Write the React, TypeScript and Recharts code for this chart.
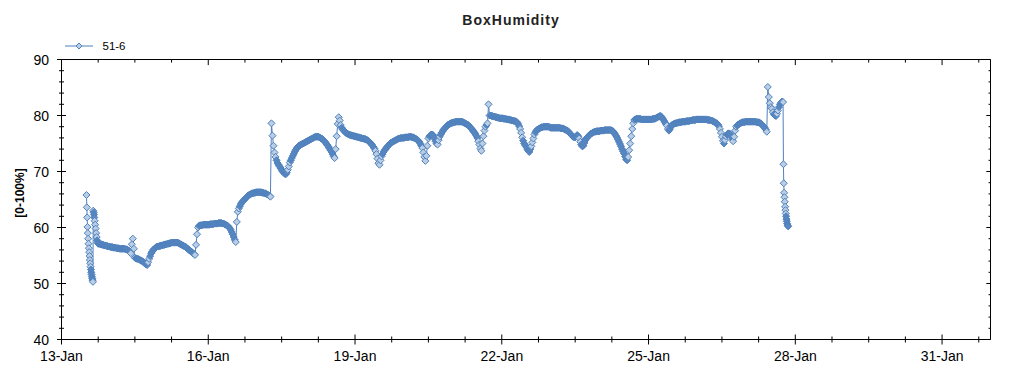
import { LineChart, Line, XAxis, YAxis, ReferenceLine } from 'recharts';

// Half-hourly humidity readings (%), one list per calendar day.
const jan13 = [57.1, 57.0, 57.0, 56.9, 56.9, 56.8, 56.8, 56.7, 56.7, 56.6, 56.6];
const jan14 = [
  56.5, 56.5, 56.5, 56.4, 56.4, 56.4, 56.3, 56.3, 56.3, 56.2, 56.2, 56.2, 56.2, 56.2, 56.2, 56.1,
  56.1, 56.0, 55.9, 55.7, 55.4, 57.0, 58.0, 56.2, 54.6, 54.5, 54.4, 54.4, 54.3, 54.2, 54.1, 54.0,
  53.9, 53.7, 53.6, 53.4, 53.3, 53.8, 54.4, 54.9, 55.4, 55.7, 56.0, 56.2, 56.3, 56.5, 56.6, 56.6,
];
const jan15 = [
  56.7, 56.7, 56.8, 56.8, 56.9, 56.9, 57.0, 57.0, 57.1, 57.1, 57.2, 57.2, 57.3, 57.3, 57.3, 57.3,
  57.3, 57.3, 57.3, 57.2, 57.1, 57.0, 56.9, 56.8, 56.7, 56.6, 56.5, 56.3, 56.2, 56.0, 55.9, 55.7,
  55.6, 55.4, 55.3, 55.1, 56.9, 58.8, 60.0, 60.3, 60.4, 60.4, 60.4, 60.5, 60.5, 60.5, 60.5, 60.5,
];
const jan16 = [
  60.5, 60.5, 60.6, 60.6, 60.6, 60.6, 60.7, 60.7, 60.7, 60.7, 60.8, 60.8, 60.8, 60.8, 60.7, 60.7,
  60.6, 60.5, 60.4, 60.3, 60.1, 59.9, 59.6, 59.2, 58.8, 58.3, 57.8, 57.4, 61.0, 62.8, 63.4, 63.8,
  64.2, 64.5, 64.7, 64.9, 65.1, 65.3, 65.5, 65.7, 65.8, 65.9, 66.0, 66.1, 66.1, 66.2, 66.2, 66.3,
];
const jan17 = [
  66.3, 66.3, 66.3, 66.3, 66.3, 66.2, 66.2, 66.1, 66.1, 66.0, 65.9, 65.8, 65.7, 65.5, 78.6, 76.4,
  74.6, 73.4, 72.6, 72.0, 71.5, 71.2, 70.9, 70.6, 70.3, 70.0, 69.8, 69.6, 69.5, 69.8, 70.3, 70.9,
  71.6, 72.0, 72.4, 72.8, 73.2, 73.6, 73.9, 74.2, 74.4, 74.6, 74.7, 74.8, 74.9, 75.0, 75.1, 75.2,
];
const jan18 = [
  75.3, 75.4, 75.5, 75.6, 75.7, 75.8, 75.9, 76.0, 76.1, 76.2, 76.2, 76.2, 76.2, 76.1, 76.0, 75.9,
  75.8, 75.6, 75.4, 75.2, 74.9, 74.7, 74.4, 74.1, 73.8, 73.5, 73.1, 72.7, 72.4, 74.0, 76.3, 78.5,
  79.7, 79.1, 78.3, 77.8, 77.5, 77.3, 77.1, 76.9, 76.8, 76.7, 76.6, 76.5, 76.5, 76.4, 76.4, 76.3,
];
const jan19 = [
  76.3, 76.2, 76.2, 76.1, 76.1, 76.0, 76.0, 75.9, 75.9, 75.8, 75.8, 75.7, 75.6, 75.5, 75.3, 75.1,
  74.9, 74.7, 74.4, 74.1, 73.7, 73.1, 72.3, 71.5, 71.2, 72.0, 72.7, 73.1, 73.5, 73.8, 74.0, 74.3,
  74.5, 74.7, 74.9, 75.1, 75.2, 75.3, 75.4, 75.5, 75.6, 75.7, 75.8, 75.9, 75.9, 76.0, 76.0, 76.0,
];
const jan20 = [
  76.0, 76.1, 76.1, 76.1, 76.1, 76.2, 76.2, 76.2, 76.1, 76.1, 76.0, 75.9, 75.8, 75.7, 75.5, 75.3,
  75.0, 74.6, 74.2, 73.4, 72.6, 71.9, 72.8, 74.6, 75.9, 76.3, 76.5, 76.6, 76.6, 76.3, 75.9, 75.4,
  75.0, 74.8, 75.6, 76.2, 76.6, 76.9, 77.2, 77.5, 77.7, 77.9, 78.1, 78.3, 78.4, 78.5, 78.6, 78.7,
];
const jan21 = [
  78.7, 78.8, 78.8, 78.9, 78.9, 78.9, 78.9, 78.9, 78.9, 78.9, 78.8, 78.7, 78.6, 78.5, 78.4, 78.3,
  78.1, 77.9, 77.7, 77.5, 77.2, 77.0, 76.7, 76.4, 76.0, 75.4, 74.8, 74.1, 73.7, 75.0, 76.3, 77.3,
  78.0, 78.3, 78.6, 82.0, 80.0, 80.0, 79.9, 79.9, 79.8, 79.8, 79.7, 79.7, 79.6, 79.6, 79.5, 79.5,
];
const jan22 = [
  79.5, 79.5, 79.4, 79.4, 79.4, 79.3, 79.3, 79.3, 79.2, 79.2, 79.1, 79.1, 79.0, 79.0, 78.9, 78.8,
  78.5, 78.1, 77.6, 76.9, 76.1, 75.5, 75.0, 74.7, 74.4, 74.0, 73.7, 73.5, 74.0, 74.5, 75.2, 75.9,
  76.6, 77.0, 77.3, 77.5, 77.6, 77.7, 77.8, 77.9, 77.9, 78.0, 78.0, 78.0, 78.0, 78.0, 78.0, 77.9,
];
const jan23 = [
  77.8, 77.8, 77.8, 77.8, 77.8, 77.8, 77.8, 77.8, 77.8, 77.8, 77.7, 77.7, 77.7, 77.6, 77.5, 77.4,
  77.3, 77.2, 77.0, 76.8, 76.6, 76.4, 76.2, 76.1, 76.1, 76.3, 76.5, 76.3, 75.9, 75.3, 74.8, 74.5,
  74.6, 75.1, 75.6, 75.9, 76.1, 76.3, 76.5, 76.7, 76.8, 76.9, 77.0, 77.1, 77.1, 77.2, 77.2, 77.2,
];
const jan24 = [
  77.2, 77.3, 77.3, 77.3, 77.3, 77.4, 77.4, 77.4, 77.4, 77.4, 77.4, 77.4, 77.3, 77.2, 77.0, 76.7,
  76.4, 76.1, 75.7, 75.3, 74.9, 74.5, 74.0, 73.6, 73.2, 72.7, 72.2, 72.0, 72.6, 73.8, 75.0, 76.3,
  77.6, 78.6, 79.2, 79.3, 79.4, 79.4, 79.4, 79.4, 79.4, 79.3, 79.3, 79.3, 79.3, 79.3, 79.3, 79.3,
];
const jan25 = [
  79.3, 79.3, 79.3, 79.3, 79.4, 79.4, 79.4, 79.5, 79.6, 79.7, 79.8, 79.9, 79.9, 79.7, 79.4, 79.1,
  78.8, 78.5, 78.2, 77.6, 77.3, 77.6, 78.1, 78.3, 78.4, 78.5, 78.6, 78.6, 78.7, 78.7, 78.8, 78.8,
  78.8, 78.9, 78.9, 78.9, 78.9, 79.0, 79.0, 79.0, 79.0, 79.1, 79.1, 79.2, 79.2, 79.2, 79.2, 79.3,
];
const jan26 = [
  79.3, 79.3, 79.3, 79.3, 79.3, 79.3, 79.3, 79.3, 79.3, 79.3, 79.2, 79.2, 79.2, 79.1, 79.1, 79.0,
  78.9, 78.8, 78.7, 78.6, 78.4, 78.1, 77.6, 76.9, 76.2, 75.5, 75.0, 75.6, 76.3, 76.6, 76.8, 76.8,
  76.7, 76.3, 75.8, 75.4, 76.2, 77.3, 78.0, 78.2, 78.4, 78.5, 78.6, 78.7, 78.8, 78.8, 78.8, 78.9,
];
const jan27 = [
  78.9, 78.9, 78.9, 78.9, 78.9, 78.9, 78.9, 78.9, 78.9, 78.9, 78.8, 78.8, 78.8, 78.7, 78.6, 78.4,
  78.2, 78.0, 77.8, 77.5, 77.1, 85.1, 83.3, 82.2, 81.5, 81.2, 80.6, 80.2, 80.0, 79.9, 80.3, 80.9,
  81.5, 82.0, 82.3, 82.5, 82.4,
];

// Faster readings around the two sharp drops: [hour of day, humidity %]
const jan13Drop: [number, number][] = [
  [12.25, 65.8], [12.42, 63.6], [12.58, 61.8], [12.75, 60.1], [12.92, 59.0], [13.08, 58.0], [13.25, 57.1],
  [13.42, 56.3], [13.58, 55.6], [13.75, 54.9], [13.92, 54.2], [14.08, 53.6], [14.25, 53.0], [14.42, 52.5],
  [14.58, 52.0], [14.75, 51.6], [14.92, 51.2], [15.08, 50.9], [15.25, 50.6], [15.42, 50.3],
  [15.58, 63.0], [15.75, 62.7], [15.92, 62.3], [16.08, 61.8], [16.25, 61.2], [16.5, 60.5], [16.75, 59.8],
  [17, 59.0], [17.25, 58.3], [17.5, 57.7], [17.75, 57.3], [18, 57.1],
];
const jan27Drop: [number, number][] = [
  [18.17, 71.3], [18.33, 67.9], [18.5, 66.2], [18.67, 65.4], [18.83, 64.6], [19, 63.7], [19.17, 63.1],
  [19.33, 62.5], [19.5, 62.0], [19.67, 61.5], [19.83, 61.1], [20, 60.7], [20.25, 60.4], [20.5, 60.2],
];

// [day of January, hour of first reading, half-hourly readings]
const grid: [number, number, number[]][] = [
  [13, 18.5, jan13], [14, 0, jan14], [15, 0, jan15], [16, 0, jan16], [17, 0, jan17], [18, 0, jan18],
  [19, 0, jan19], [20, 0, jan20], [21, 0, jan21], [22, 0, jan22], [23, 0, jan23], [24, 0, jan24],
  [25, 0, jan25], [26, 0, jan26], [27, 0, jan27],
];
const bursts: [number, [number, number][]][] = [[13, jan13Drop], [27, jan27Drop]];

// x axis: days since 13-Jan 00:00
const dateLabels = ['13-Jan', '16-Jan', '19-Jan', '22-Jan', '25-Jan', '28-Jan', '31-Jan'];
const xMajor = [0, 3, 6, 9, 12, 15, 18];
const xTicks = xMajor.flatMap((d) => [d, d + 0.75, d + 1.5, d + 2.25]);
const yMajor = [40, 50, 60, 70, 80, 90];
const yTicks = yMajor.flatMap((v) => (v === 90 ? [v] : [v, v + 2, v + 4, v + 6, v + 8]));
const X_MAX = 18.99;
const Y_MIN = 40;
const Y_MAX = 90;

const readings = [
  ...grid.flatMap(([day, first, values]) =>
    values.map((value, i) => ({ t: day - 13 + (first + i * 0.5) / 24, value })),
  ),
  ...bursts.flatMap(([day, values]) =>
    values.map(([hour, value]) => ({ t: day - 13 + hour / 24, value })),
  ),
].sort((a, b) => a.t - b.t);

// markers that sit in a slow-moving stretch overlap into a solid band
const points = readings.map((p, i) => {
  const prev = readings[i - 1] ?? p;
  const next = readings[i + 1] ?? p;
  const step = Math.max(Math.abs(p.value - prev.value), Math.abs(next.value - p.value));
  return { ...p, dense: step <= 0.6 };
});

const BLUE = '#4f81bd';
const FILL = '#b9cde5';
const BAND = '#5a89c2';
const FONT = '"Liberation Sans", Arial, sans-serif';

// inner tick lengths on the mirrored top / right edges, in axis units
const TOP_MAJOR = 1.0;
const TOP_MINOR = 0.55;
const RIGHT_MAJOR = 0.085;
const RIGHT_MINOR = 0.04;

function Diamond(props: any) {
  const { cx, cy, index, payload } = props;
  if (cx == null || cy == null) return <g key={index} />;
  const r = 3.5;
  return (
    <polygon
      key={index}
      points={`${cx},${cy - r} ${cx + r},${cy} ${cx},${cy + r} ${cx - r},${cy}`}
      fill={payload?.dense ? BAND : FILL}
      stroke={BLUE}
      strokeWidth={1}
    />
  );
}

function BottomTick({ x, y, payload }: any) {
  const i = xMajor.indexOf(payload.value);
  const len = i >= 0 ? 5 : 3;
  return (
    <g>
      <line x1={x} x2={x} y1={y - len} y2={y + len} stroke="#000" />
      {i >= 0 && (
        <text x={x} y={y + 21} textAnchor="middle" fontSize={14} fontFamily={FONT} fill="#000">
          {dateLabels[i]}
        </text>
      )}
    </g>
  );
}

function LeftTick({ x, y, payload }: any) {
  const major = yMajor.includes(payload.value);
  const len = major ? 4.5 : 2.5;
  return (
    <g>
      <line x1={x - len} x2={x + len} y1={y} y2={y} stroke="#000" />
      {major && (
        <text x={x - 12.5} y={y + 5} textAnchor="end" fontSize={14} fontFamily={FONT} fill="#000">
          {payload.value}
        </text>
      )}
    </g>
  );
}

export default function App() {
  return (
    <div
      style={{
        position: 'absolute',
        left: 0,
        top: 0,
        width: 1000,
        height: 375,
        overflow: 'hidden',
        background: '#fff',
      }}
    >
      <LineChart
        width={1024}
        height={375}
        data={points}
        margin={{ top: 59.5, right: 33.5, bottom: 5.5, left: 21.5 }}
      >
        <XAxis
          dataKey="t"
          type="number"
          domain={[0, X_MAX]}
          allowDataOverflow
          ticks={xTicks}
          interval={0}
          height={30}
          tickSize={0}
          tickMargin={0}
          tickLine={false}
          axisLine={{ stroke: '#000' }}
          tick={<BottomTick />}
        />
        <YAxis
          type="number"
          domain={[Y_MIN, Y_MAX]}
          allowDataOverflow
          ticks={yTicks}
          interval={0}
          width={40}
          tickSize={0}
          tickMargin={0}
          tickLine={false}
          axisLine={{ stroke: '#000' }}
          tick={<LeftTick />}
        />
        <ReferenceLine y={Y_MAX} stroke="#000" />
        <ReferenceLine x={X_MAX} stroke="#000" />
        {xTicks.map((t) => (
          <ReferenceLine
            key={`top-${t}`}
            segment={[
              { x: t, y: Y_MAX },
              { x: t, y: Y_MAX - (xMajor.includes(t) ? TOP_MAJOR : TOP_MINOR) },
            ]}
            stroke="#000"
          />
        ))}
        {yTicks.map((v) => (
          <ReferenceLine
            key={`right-${v}`}
            segment={[
              { x: X_MAX, y: v },
              { x: X_MAX - (yMajor.includes(v) ? RIGHT_MAJOR : RIGHT_MINOR), y: v },
            ]}
            stroke="#000"
          />
        ))}
        <Line
          type="linear"
          dataKey="value"
          stroke={BLUE}
          strokeWidth={1}
          dot={Diamond}
          activeDot={false}
          isAnimationActive={false}
        />
      </LineChart>
      <svg
        width={1000}
        height={375}
        style={{ position: 'absolute', left: 0, top: 0, pointerEvents: 'none' }}
      >
        <text
          x={511}
          y={24.5}
          textAnchor="middle"
          fontSize={14}
          fontWeight="bold"
          letterSpacing={1}
          fontFamily={FONT}
          fill="#222"
        >
          BoxHumidity
        </text>
        <line x1={65} x2={93} y1={46} y2={46} stroke={BLUE} />
        <polygon points="79,43 82,46 79,49 76,46" fill={FILL} stroke={BLUE} />
        <text x={102.5} y={50} fontSize={11.5} fontFamily={FONT} fill="#000">
          51-6
        </text>
        <text
          transform="translate(23.5,193) rotate(-90)"
          textAnchor="middle"
          fontSize={12}
          fontWeight="bold"
          fontFamily={FONT}
          fill="#000"
        >
          [0-100%]
        </text>
      </svg>
    </div>
  );
}
